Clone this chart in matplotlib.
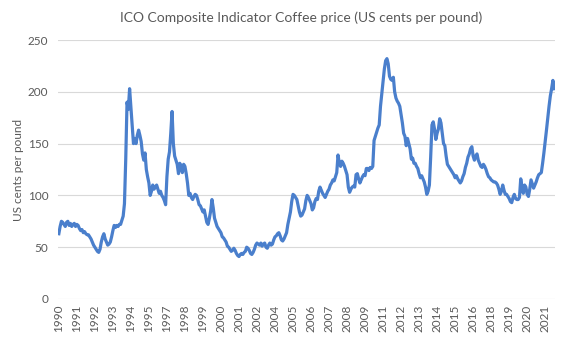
import matplotlib
matplotlib.use('Agg')
import matplotlib.pyplot as plt
import numpy as np

plt.rcParams['font.family'] = ['Lato', 'DejaVu Sans']

# ====数据：ICO综合指标价格（月度，1990年1月起）
start_year = 1990
price_by_year = [
    [63, 70, 75, 74, 72, 70, 74, 75, 71, 73, 70, 72],            # 1990
    [73, 70, 72, 71, 68, 66, 67, 64, 65, 63, 62, 62],            # 1991
    [60, 58, 55, 52, 50, 48, 46, 45, 48, 55, 60, 63],            # 1992
    [58, 55, 52, 53, 55, 60, 66, 71, 69, 71, 70, 72],            # 1993
    [72, 76, 80, 92, 135, 190, 183, 203, 185, 168, 150, 155],    # 1994
    [150, 158, 163, 158, 152, 140, 134, 141, 125, 118, 112, 100],  # 1995
    [104, 110, 106, 108, 110, 106, 102, 104, 100, 98, 95, 91],   # 1996
    [118, 135, 142, 160, 181, 150, 138, 134, 130, 121, 131, 128],  # 1997
    [122, 130, 128, 121, 112, 100, 102, 98, 96, 99, 101, 100],   # 1998
    [96, 91, 90, 87, 84, 86, 80, 74, 72, 78, 85, 96],            # 1999
    [88, 78, 74, 70, 68, 66, 64, 60, 59, 57, 55, 51],            # 2000
    [50, 48, 46, 47, 49, 47, 44, 42, 41, 43, 44, 43],            # 2001
    [45, 46, 50, 49, 47, 44, 43, 45, 48, 52, 54, 53],            # 2002
    [52, 54, 51, 53, 54, 50, 49, 52, 54, 52, 53, 57],            # 2003
    [60, 61, 63, 64, 61, 57, 56, 58, 61, 64, 72, 78],            # 2004
    [84, 94, 101, 100, 98, 96, 90, 84, 80, 81, 84, 87],          # 2005
    [95, 100, 98, 95, 92, 86, 88, 94, 97, 96, 104, 108],         # 2006
    [105, 102, 100, 98, 101, 104, 106, 110, 112, 115, 114, 118],  # 2007
    [122, 139, 131, 128, 133, 131, 128, 124, 120, 108, 103, 106],  # 2008
    [108, 109, 108, 120, 121, 116, 112, 115, 118, 120, 119, 126],  # 2009
    [126, 124, 127, 126, 128, 153, 157, 161, 165, 168, 186, 198],  # 2010
    [211, 222, 230, 232, 227, 215, 212, 211, 214, 200, 194, 191],  # 2011
    [189, 186, 178, 170, 160, 157, 148, 155, 150, 145, 135, 136],  # 2012
    [131, 131, 128, 126, 121, 117, 119, 116, 113, 108, 101, 104],  # 2013
    [110, 137, 168, 171, 164, 154, 160, 164, 174, 170, 160, 150],  # 2014
    [148, 138, 130, 128, 126, 124, 122, 120, 117, 119, 116, 114],  # 2015
    [112, 114, 118, 121, 127, 131, 137, 140, 145, 147, 138, 134],  # 2016
    [138, 140, 134, 131, 128, 127, 130, 128, 125, 121, 118, 117],  # 2017
    [115, 114, 113, 113, 112, 110, 106, 101, 104, 110, 105, 101],  # 2018
    [101, 99, 97, 94, 93, 98, 101, 97, 96, 96, 98, 116],         # 2019
    [108, 102, 110, 108, 101, 99, 106, 115, 111, 107, 110, 113],  # 2020
    [117, 120, 121, 122, 131, 141, 152, 163, 175, 186, 196, 203],  # 2021
    [211, 203],                                                  # 2022
]
y_ticks = [0, 50, 100, 150, 200, 250]
label_step = 14  # 横轴每14个月一个标签

prices = [v for row in price_by_year for v in row]
n = len(prices)
idx = np.arange(n)
years = [start_year + i // 12 for i in idx]

# ====绘图
fig = plt.figure(figsize=(5.65, 3.39), dpi=100)
ax = fig.add_axes([0.103, 0.118, 0.879, 0.764])

ax.plot(idx, prices, color='#4A7FCC', linewidth=2.3, solid_joinstyle='round')

ax.set_xlim(-0.5, n - 0.5)
ax.set_ylim(0, 250)
ax.set_yticks(y_ticks)
tick_pos = idx[::label_step]
ax.set_xticks(tick_pos)
ax.set_xticklabels([str(years[i]) for i in tick_pos], rotation=90)

ax.grid(axis='y', color='#D9D9D9', linewidth=0.8)
ax.set_axisbelow(True)
for s in ax.spines.values():
    s.set_visible(False)
ax.tick_params(axis='both', length=0, colors='#595959', labelsize=8.5)
ax.tick_params(axis='y', pad=7)
ax.tick_params(axis='x', pad=4)

ax.set_ylabel('US cents per pound', color='#595959', fontsize=8.5, labelpad=3)
fig.text(0.533, 0.948, 'ICO Composite Indicator Coffee price (US cents per pound)',
         ha='center', va='center', color='#595959', fontsize=10)

fig.savefig('out.png', dpi=100)
